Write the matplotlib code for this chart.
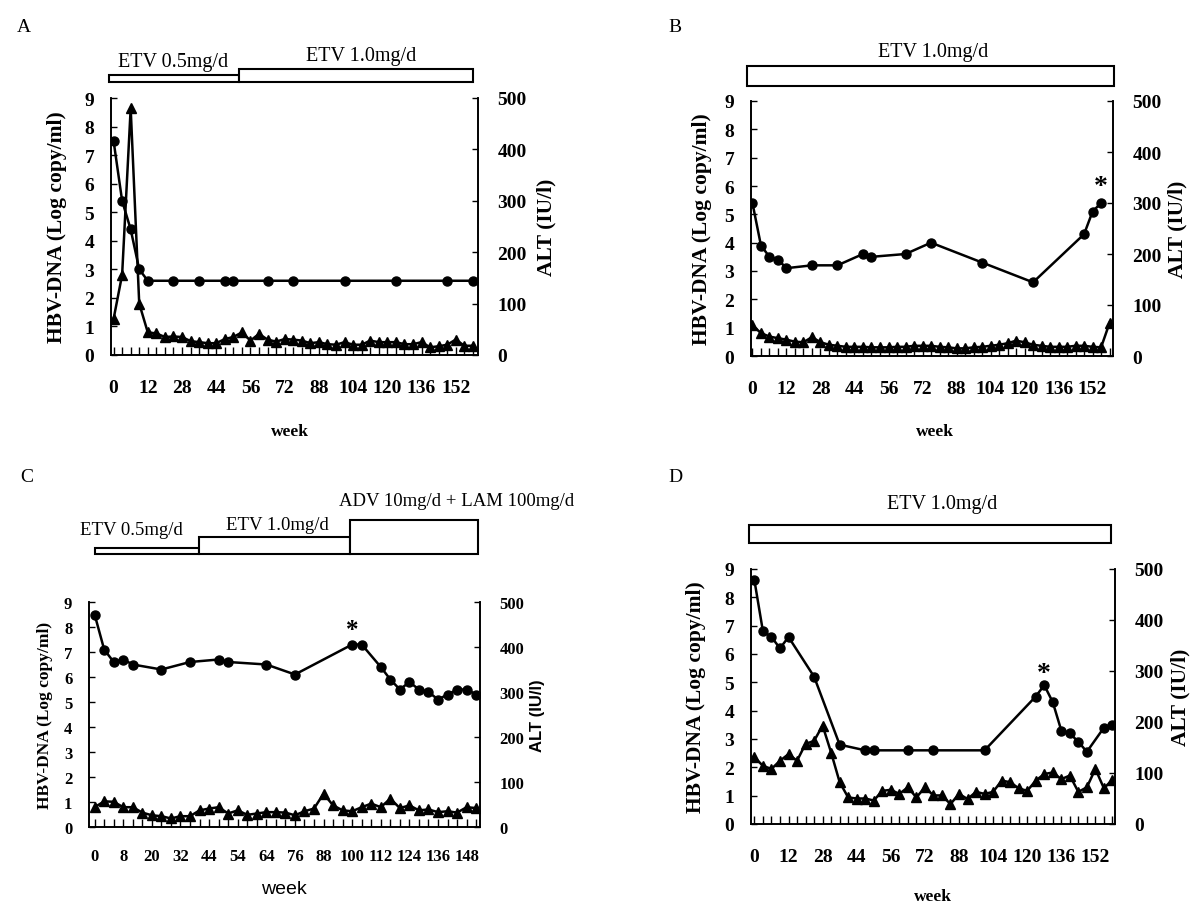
import matplotlib
matplotlib.use("Agg")
import matplotlib.pyplot as plt
import matplotlib.transforms as mtrans
from matplotlib.patches import Rectangle

plt.rcParams['font.family'] = ['Liberation Serif', 'DejaVu Serif']

W, H = 1193, 903

# x axis = visit number (category axis), labels shown every few visits
labels_ABD = [0, 12, 28, 44, 56, 72, 88, 104, 120, 136, 152]   # every 4th visit
labels_C = [0, 8, 20, 32, 44, 54, 64, 76, 88, 100, 112, 124, 136, 148]  # every 3rd visit

# ---- panel A
A_dna_visit = [0, 1, 2, 3, 4, 7, 10, 13, 14, 18, 21, 27, 33, 39, 42]
A_dna = [7.5, 5.4, 4.4, 3.0, 2.6, 2.6, 2.6, 2.6, 2.6, 2.6, 2.6, 2.6, 2.6, 2.6, 2.6]
A_alt = [70, 156, 480, 100, 44, 42, 35, 36, 35, 27, 25, 23, 23, 31, 35, 44, 28, 41,
         30, 26, 31, 30, 28, 23, 25, 21, 20, 25, 20, 20, 28, 25, 25, 25, 21, 21, 25,
         15, 17, 20, 30, 18, 18]

# ---- panel B
B_dna_visit = [0, 1, 2, 3, 4, 7, 10, 13, 14, 18, 21, 27, 33, 39, 40, 41]
B_dna = [5.4, 3.9, 3.5, 3.4, 3.1, 3.2, 3.2, 3.6, 3.5, 3.6, 4.0, 3.3, 2.6, 4.3, 5.1, 5.4]
B_alt = [60, 45, 38, 35, 32, 28, 27, 37, 27, 22, 20, 18, 18, 18, 17, 17, 17, 18, 18,
         20, 20, 20, 18, 17, 15, 15, 17, 18, 20, 22, 25, 30, 27, 22, 20, 18, 18, 18,
         20, 20, 18, 17, 65]

# ---- panel C
C_dna_visit = [0, 1, 2, 3, 4, 7, 10, 13, 14, 18, 21, 27, 28, 30, 31, 32, 33, 34, 35,
               36, 37, 38, 39, 40]
C_dna = [8.5, 7.1, 6.6, 6.7, 6.5, 6.3, 6.6, 6.7, 6.6, 6.5, 6.1, 7.3, 7.3, 6.4, 5.9,
         5.5, 5.8, 5.5, 5.4, 5.1, 5.3, 5.5, 5.5, 5.3]
C_alt = [44, 57, 56, 44, 44, 32, 26, 24, 19, 24, 24, 37, 41, 44, 30, 37, 27, 30, 33,
         33, 32, 26, 35, 41, 74, 48, 37, 35, 44, 52, 44, 63, 42, 48, 37, 39, 33, 35,
         32, 44, 42]

# ---- panel D
D_dna_visit = [0, 1, 2, 3, 4, 7, 10, 13, 14, 18, 21, 27, 33, 34, 35, 36, 37, 38, 39, 41, 42]
D_dna = [8.6, 6.8, 6.6, 6.2, 6.6, 5.2, 2.8, 2.6, 2.6, 2.6, 2.6, 2.6, 4.5, 4.9, 4.3,
         3.3, 3.2, 2.9, 2.55, 3.4, 3.5]
D_alt = [131, 114, 108, 124, 137, 124, 157, 163, 193, 140, 82, 52, 50, 50, 46, 65, 67,
         59, 72, 52, 72, 56, 56, 39, 59, 49, 63, 59, 63, 85, 82, 70, 65, 85, 98, 101,
         88, 95, 63, 72, 108, 70, 87]

# treatment periods (label, first visit edge, last visit edge)
A_treat = [("ETV 0.5mg/d", -0.57, 14.7), ("ETV 1.0mg/d", 14.7, 42.0)]
B_treat = [("ETV 1.0mg/d", -0.63, 42.5)]
C_treat = [("ETV 0.5mg/d", 0.0, 10.9), ("ETV 1.0mg/d", 10.9, 26.8),
           ("ADV 10mg/d + LAM 100mg/d", 26.8, 40.2)]
D_treat = [("ETV 1.0mg/d", -0.67, 41.8)]

SANS = ['Liberation Sans', 'DejaVu Sans']

fig = plt.figure(figsize=(W / 100, H / 100), dpi=100)


def fy(py):
    return 1 - py / H


def panel(rect, xlim, dna_v, dna, alt, labels, step, small=False):
    ax = fig.add_axes(rect)
    n = len(alt)
    ax.set_xlim(*xlim)
    ax.set_ylim(0, 9)
    ax2 = ax.twinx()
    ax2.set_ylim(0, 500)
    ax2.plot(range(n), alt, '-^', color='black', lw=1.8, ms=7, zorder=3)
    ax.plot(dna_v, dna, '-o', color='black', lw=1.8, ms=6.5, zorder=4)
    ax.set_zorder(ax2.get_zorder() + 1)
    ax.patch.set_visible(False)
    fs = 12 if small else 14
    ax.set_xticks(range(n))
    ax.set_xticklabels([str(labels[i // step]) if i % step == 0 and i // step < len(labels) else ''
                        for i in range(n)])
    ax.set_yticks(range(10))
    ax2.set_yticks(range(0, 501, 100))
    for a in (ax, ax2):
        a.tick_params(direction='in', length=4, width=1, labelsize=fs)
        for lab in a.get_xticklabels() + a.get_yticklabels():
            lab.set_fontweight('bold')
        for s in a.spines.values():
            s.set_linewidth(1.2)
    ax.tick_params(axis='x', length=6, pad=15 if small else 17)
    ax.tick_params(axis='y', pad=12)
    ax2.tick_params(axis='y', pad=14)
    ax.spines['top'].set_visible(False)
    ax2.spines['top'].set_visible(False)
    return ax, ax2


def treatments(ax, treat, ys):
    tr = mtrans.blended_transform_factory(ax.transData, fig.transFigure)
    for (lab, x0, x1), (top, bot) in zip(treat, ys):
        ax.add_patch(Rectangle((x0, fy(bot)), x1 - x0, (bot - top) / H, transform=tr,
                               facecolor='white', edgecolor='black', lw=1.5, clip_on=False))


def ylabels(ax, ax2, left_px, width_px, lx, rx, fs=15.5, fs2=15.5, fam2=None):
    ax.set_ylabel("HBV-DNA (Log copy/ml)", fontsize=fs, fontweight='bold')
    ax.yaxis.set_label_coords((lx - left_px) / width_px, 0.5)
    kw = {'family': fam2} if fam2 else {}
    ax2.set_ylabel("ALT (IU/l)", fontsize=fs2, fontweight='bold', **kw)
    ax2.yaxis.set_label_coords((rx - left_px) / width_px, 0.5)


# A
axA, axA2 = panel([111 / W, fy(356), 367 / W, 257 / H], (-0.3, 42.6), A_dna_visit, A_dna, A_alt, labels_ABD, 4)
treatments(axA, A_treat, [(76, 83), (70, 83)])
fig.text(173 / W, fy(62), A_treat[0][0], ha='center', va='center', fontsize=14.5)
fig.text(361 / W, fy(57), A_treat[1][0], ha='center', va='center', fontsize=14.5)
ylabels(axA, axA2, 111, 367, 67, 536)
fig.text(290 / W, fy(432), "week", ha='center', va='center', fontsize=12.5, fontweight='bold')
fig.text(17 / W, fy(28), "A", ha='left', va='center', fontsize=14)

# B
axB, axB2 = panel([751 / W, fy(357), 362 / W, 255 / H], (-0.17, 42.4), B_dna_visit, B_dna, B_alt, labels_ABD, 4)
treatments(axB, B_treat, [(67, 87)])
fig.text(933 / W, fy(53), B_treat[0][0], ha='center', va='center', fontsize=14.5)
ylabels(axB, axB2, 751, 362, 712, 1167)
axB.text(B_dna_visit[-1], 6.0, "*", ha='center', va='center', fontsize=20, fontweight='bold')
fig.text(935 / W, fy(432), "week", ha='center', va='center', fontsize=12.5, fontweight='bold')
fig.text(668 / W, fy(28), "B", ha='left', va='center', fontsize=14)

# C
axC, axC2 = panel([89 / W, fy(828), 391 / W, 225 / H], (-0.59, 40.4), C_dna_visit, C_dna, C_alt, labels_C, 3, small=True)
treatments(axC, C_treat, [(549, 555), (538, 555), (521, 555)])
fig.text(131 / W, fy(531), C_treat[0][0], ha='center', va='center', fontsize=13.5)
fig.text(277 / W, fy(525), C_treat[1][0], ha='center', va='center', fontsize=13.5)
fig.text(339 / W, fy(502), C_treat[2][0], ha='left', va='center', fontsize=13.5)
ylabels(axC, axC2, 89, 391, 53, 530, fs=12.5, fs2=12, fam2=SANS)
axC.text(27, 7.9, "*", ha='center', va='center', fontsize=18, fontweight='bold')
fig.text(284 / W, fy(890), "week", ha='center', va='center', fontsize=14, family=SANS)
fig.text(20 / W, fy(478), "C", ha='left', va='center', fontsize=14)

# D
axD, axD2 = panel([751 / W, fy(825), 364 / W, 255 / H], (-0.4, 42.3), D_dna_visit, D_dna, D_alt, labels_ABD, 4)
treatments(axD, D_treat, [(526, 544)])
fig.text(942 / W, fy(505), D_treat[0][0], ha='center', va='center', fontsize=14.5)
ylabels(axD, axD2, 751, 364, 706, 1170)
axD.text(34, 5.3, "*", ha='center', va='center', fontsize=20, fontweight='bold')
fig.text(933 / W, fy(897), "week", ha='center', va='center', fontsize=12.5, fontweight='bold')
fig.text(668 / W, fy(478), "D", ha='left', va='center', fontsize=14)

fig.savefig("out.png", dpi=100)
